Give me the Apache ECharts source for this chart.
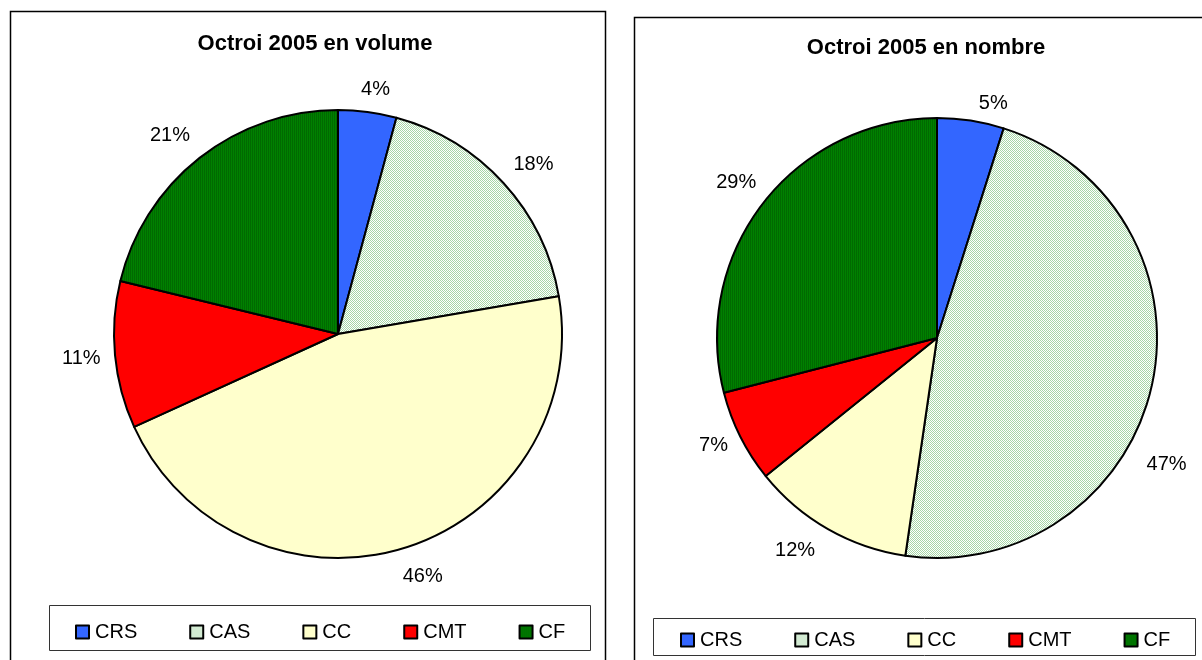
<!DOCTYPE html>
<html>
<head>
<meta charset="utf-8">
<script src="https://cdn.jsdelivr.net/npm/echarts@6/dist/echarts.min.js"></script>
<style>
html,body{margin:0;padding:0;background:#fff;}
#c{width:1202px;height:660px;}
</style>
</head>
<body>
<div id="c"></div>
<script>
// ---- data ----
const categories = ['CRS', 'CAS', 'CC', 'CMT', 'CF'];
const volumeValues = [4.2, 18.1, 45.9, 10.6, 21.2];   // Octroi 2005 en volume (%)
const nombreValues = [4.9, 47.4, 11.9, 6.8, 29.0];    // Octroi 2005 en nombre (%)
const titles = ['Octroi 2005 en volume', 'Octroi 2005 en nombre'];

// ---- styles ----
const FONT = "'Liberation Sans', Arial, sans-serif";

function tile(w, h, draw) {
  const c = document.createElement('canvas');
  c.width = w; c.height = h;
  draw(c.getContext('2d'));
  return c;
}
const casPattern = {
  image: tile(2, 2, g => {
    g.fillStyle = '#ffffff'; g.fillRect(0, 0, 2, 2);
    g.fillStyle = '#a6d6a6'; g.fillRect(0, 0, 1, 1); g.fillRect(1, 1, 1, 1);
  }),
  repeat: 'repeat'
};
const cfPattern = {
  image: tile(2, 2, g => {
    g.fillStyle = '#008000'; g.fillRect(0, 0, 2, 2);
    g.fillStyle = '#006a00'; g.fillRect(0, 0, 1, 2);
  }),
  repeat: 'repeat'
};
const colors = ['#3366ff', casPattern, '#ffffcc', '#ff0000', cfPattern];

function buildData(values) {
  return categories.map((name, i) => ({
    name: name,
    value: values[i],
    itemStyle: { color: colors[i] }
  }));
}

// label placement: push each label box just outside the slice along its mid-angle
function makeLabelLayout(nudges) {
  return function (p) {
    const pts = p.labelLinePoints;
    if (!pts || pts.length < 2) return { align: 'center', verticalAlign: 'middle' };
    const a = pts[0], b = pts[1];
    let ux = b[0] - a[0], uy = b[1] - a[1];
    const n = Math.hypot(ux, uy) || 1; ux /= n; uy /= n;
    const w = p.labelRect.width, h = p.labelRect.height;
    const ext = w / 2 * Math.abs(ux) + h / 2 * Math.abs(uy) * 0.7;
    let x = b[0] + ux * ext, y = b[1] + uy * ext;
    const nd = nudges[p.dataIndex];
    if (nd) { x += nd[0]; y += nd[1]; }
    return { x: x, y: y, align: 'center', verticalAlign: 'middle' };
  };
}

function pieSeries(values, center, radius, nudges) {
  return {
    type: 'pie',
    center: center,
    radius: radius,
    startAngle: 90,
    clockwise: true,
    avoidLabelOverlap: false,
    silent: true,
    animation: false,
    data: buildData(values),
    itemStyle: { borderColor: '#000', borderWidth: 2 },
    label: {
      show: true,
      position: 'outside',
      formatter: p => Math.round(p.value) + '%',
      fontFamily: FONT,
      fontSize: 20,
      color: '#000'
    },
    labelLine: { show: true, length: 14, length2: 0, lineStyle: { opacity: 0 } },
    labelLayout: makeLabelLayout(nudges),
    emphasis: { disabled: true }
  };
}

function legend(left, top) {
  return {
    data: categories,
    orient: 'horizontal',
    left: left,
    top: top,
    padding: 0,
    itemGap: 52,
    itemWidth: 13,
    itemHeight: 13,
    icon: 'rect',
    selectedMode: false,
    itemStyle: { borderColor: '#000', borderWidth: 2 },
    textStyle: { fontFamily: FONT, fontSize: 20, color: '#000', padding: [0, 0, 0, 1] }
  };
}

const chart = echarts.init(document.getElementById('c'), null, { renderer: 'canvas' });
chart.setOption({
  backgroundColor: '#fff',
  animation: false,
  title: [
    { text: titles[0], left: 315, top: 33, textAlign: 'center', padding: 0,
      textStyle: { fontFamily: FONT, fontSize: 22, fontWeight: 'bold', color: '#000' } },
    { text: titles[1], left: 926, top: 37, textAlign: 'center', padding: 0,
      textStyle: { fontFamily: FONT, fontSize: 22, fontWeight: 'bold', color: '#000' } }
  ],
  legend: [legend(75, 622), legend(680, 630)],
  graphic: [
    { type: 'rect', shape: { x: 10.5, y: 11.5, width: 595, height: 700 },
      style: { fill: 'none', stroke: '#000', lineWidth: 1.5 }, silent: true, z: -1 },
    { type: 'rect', shape: { x: 634.5, y: 17.5, width: 620, height: 700 },
      style: { fill: 'none', stroke: '#000', lineWidth: 1.5 }, silent: true, z: -1 },
    { type: 'rect', shape: { x: 49.5, y: 605.5, width: 541, height: 45 },
      style: { fill: 'none', stroke: '#333', lineWidth: 1 }, silent: true, z: -1 },
    { type: 'rect', shape: { x: 653.5, y: 618.5, width: 542, height: 37 },
      style: { fill: 'none', stroke: '#333', lineWidth: 1 }, silent: true, z: -1 }
  ],
  series: [
    pieSeries(volumeValues, [338, 334], 224, { 0: [5, 0], 1: [5, 4], 2: [11, 3], 4: [-10, 3] }),
    pieSeries(nombreValues, [937, 338], 220, { 0: [19, 6], 1: [-19, 69], 2: [-18, -5], 3: [0, -5] })
  ]
});
</script>
</body>
</html>
